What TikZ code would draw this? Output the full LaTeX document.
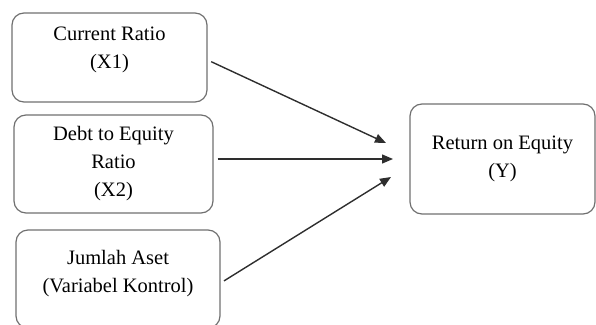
\documentclass[tikz,border=0pt]{standalone}
\usepackage{fontspec}
\setmainfont{Liberation Serif}
\usepackage{xcolor}
\usepackage{tikz}
\usetikzlibrary{arrows.meta,positioning}

\definecolor{boxline}{HTML}{707070}
\definecolor{arrline}{HTML}{2E2E2E}

\begin{document}
\begin{tikzpicture}[x=1pt, y=-1pt,
    varbox/.style={rectangle, rounded corners=12pt, draw=boxline, line width=1.2pt,
        align=center, font=\fontsize{20.5}{28}\selectfont, inner sep=0pt},
    link/.style={-{Triangle[length=11pt,width=9pt]}, line width=1.4pt, arrline, shorten <=4pt}
]
    \useasboundingbox (0,0) rectangle (596,324);
    \node[varbox, minimum width=195pt, minimum height=89pt, text depth=20pt] (cr) at (109.5,57.5) {Current Ratio\\(X1)};
    \node[varbox, minimum width=199pt, minimum height=98pt] (der) at (113.5,164) {Debt to Equity\\Ratio\\(X2)};
    \node[varbox, minimum width=204pt, minimum height=98pt, text depth=15pt] (aset) at (118,279) {Jumlah Aset\\(Variabel Kontrol)};
    \node[varbox, minimum width=185pt, minimum height=110pt] (roe) at (502.5,159) {Return on Equity\\(Y)};
    \coordinate (t1) at (386,143);
    \coordinate (t2) at (393,159);
    \coordinate (t3) at (391,177);
    \draw[link] ([yshift=-2.5pt]cr.east) -- (t1);
    \draw[link] ([yshift=5pt]der.east) -- (t2);
    \draw[link] ([yshift=-4pt]aset.east) -- (t3);
\end{tikzpicture}
\end{document}
